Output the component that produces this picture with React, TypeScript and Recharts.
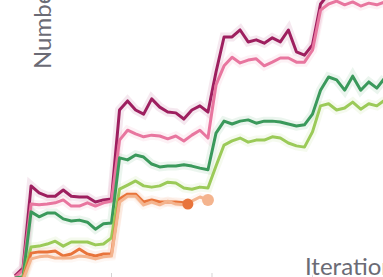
import { LineChart, Line, XAxis, YAxis, CartesianGrid } from "recharts"

// iterations sampled every 2 steps
const iterations = [
  1, 3, 5, 7, 9, 11, 13, 15, 17, 19, 21, 23, 25, 27, 29, 31, 33, 35, 37, 39, 41, 43, 45, 47,
  49, 51, 53, 55, 57, 59, 61, 63, 65, 67, 69, 71, 73, 75, 77, 79, 81, 83, 85, 87, 89, 91, 93,
]
const orangeIterations = [1, 3, 5, 7, 9, 11, 13, 15, 17, 19, 21, 23, 25, 27, 29, 31, 33, 35, 37, 39, 41, 43, 44]
const peachIterations = [1, 3, 5, 7, 9, 11, 13, 15, 17, 19, 21, 23, 25, 27, 29, 31, 33, 35, 37, 39, 41, 43, 45, 47, 49]

const magenta = [
  7.5, 9.4, 29.3, 27.6, 26.8, 26.8, 28.3, 26.8, 26.6, 26.6, 25.4, 25.9, 26.1,
  47.7, 49.9, 47.7, 46.7, 50.4, 48.4, 47.2, 47.0, 45.5, 47.7, 48.7, 47.2,
  56.9, 65.4, 65.4, 67.1, 64.2, 64.7, 63.9, 65.2, 64.2, 67.1, 61.8, 61.0, 63.5,
  73.4, 75.8, 76.8, 76.1, 76.5, 75.6, 76.3, 76.5, 75.8,
]
const pink = [
  7.2, 8.9, 24.9, 24.7, 24.9, 25.2, 25.9, 24.4, 24.4, 25.2, 24.4, 25.2, 25.6,
  40.4, 42.8, 41.9, 41.2, 41.6, 41.4, 40.7, 41.4, 40.2, 41.6, 42.8, 40.9,
  53.8, 58.4, 60.5, 59.1, 59.8, 60.1, 58.4, 59.3, 60.3, 60.3, 59.3, 59.3, 62.2,
  71.9, 73.4, 74.1, 73.2, 73.9, 72.9, 73.6, 73.2, 73.9,
]
const green = [
  7.0, 7.2, 23.0, 21.8, 22.7, 22.7, 21.3, 20.8, 21.0, 20.5, 18.8, 20.1, 20.3,
  36.1, 35.6, 36.8, 36.3, 34.6, 33.9, 34.1, 34.1, 34.4, 34.1, 33.6, 33.2,
  42.1, 45.0, 44.3, 45.0, 45.3, 44.5, 45.0, 45.0, 44.8, 44.3, 43.8, 44.1, 46.7,
  52.5, 55.7, 55.0, 52.5, 55.9, 52.5, 54.5, 53.0, 55.5,
]
const lightGreen = [
  6.7, 7.0, 14.5, 14.7, 15.2, 15.9, 14.7, 15.7, 15.7, 15.7, 15.0, 15.2, 16.7,
  28.5, 29.5, 30.5, 29.3, 29.0, 29.3, 30.2, 30.0, 28.8, 28.5, 29.0, 28.8,
  34.1, 39.2, 40.2, 40.9, 39.9, 40.4, 40.4, 41.2, 40.9, 39.7, 39.0, 38.7, 42.4,
  48.7, 49.2, 47.7, 48.2, 49.6, 47.9, 49.2, 48.7, 50.1,
]
const orange = [
  6.5, 6.7, 13.0, 13.3, 13.3, 13.5, 12.3, 12.8, 14.0, 12.8, 12.3, 12.8, 12.8,
  26.1, 27.3, 27.3, 25.4, 25.9, 25.4, 25.4, 25.4, 25.2, 24.9,
]
const peach = [
  6.2, 6.5, 11.6, 12.1, 12.3, 11.8, 11.8, 11.8, 12.3, 12.1, 11.6, 12.1, 12.3,
  25.4, 26.8, 26.8, 24.7, 25.4, 24.7, 25.6, 24.9, 24.7, 25.6, 26.6, 25.9,
]

const yTicks = [10, 20, 30, 40, 50, 60, 70, 80, 90]
const xTicks = [25, 50, 75, 100]

const toPoints = (xs: number[], ys: number[]) => xs.map((x, i) => ({ x, y: ys[i] }))

const series = [
  { name: "magenta", color: "#9e1f5f", data: toPoints(iterations, magenta) },
  { name: "pink", color: "#e8769f", data: toPoints(iterations, pink) },
  { name: "green", color: "#3a995b", data: toPoints(iterations, green) },
  { name: "lightGreen", color: "#9bca58", data: toPoints(iterations, lightGreen) },
  { name: "orange", color: "#e8743b", data: toPoints(orangeIterations, orange), end: 5.5 },
  { name: "peach", color: "#f4b48e", data: toPoints(peachIterations, peach), end: 6 },
]

const endDot = (color: string, r: number, last: number) => (props: any) => {
  const { cx, cy, index } = props
  if (index !== last) return <g key={`d-${index}`} />
  return <circle key={`d-${index}`} cx={cx} cy={cy} r={r} fill={color} />
}

const labelStyle = {
  fontFamily: "Lato, sans-serif",
  fontSize: 24,
  fill: "#6b6b75",
  stroke: "#ffffff",
  strokeWidth: 4,
  paintOrder: "stroke",
} as const

export default function App() {
  return (
    <div style={{ position: "absolute", left: 0, top: 0, width: 383, height: 277, overflow: "hidden", background: "#fff" }}>
      <div style={{ position: "absolute", left: 0, top: -65 }}>
        <LineChart width={413} height={348} margin={{ top: 0.5, right: 0, bottom: 1, left: 15 }}>
          <CartesianGrid vertical={false} stroke="#e3e3e3" />
          <XAxis
            type="number"
            dataKey="x"
            domain={[1, 100]}
            ticks={xTicks}
            mirror
            axisLine={false}
            tickSize={9}
            tickLine={{ stroke: "#d4d4d4" }}
            tick={() => <g />}
          />
          <YAxis
            type="number"
            domain={[6, 90]}
            ticks={yTicks}
            width={0}
            axisLine={false}
            tickLine={false}
            tick={false}
          />
          {series.map((s) => (
            <Line
              key={`${s.name}-band`}
              data={s.data}
              dataKey="y"
              type="linear"
              stroke={s.color}
              strokeOpacity={0.1}
              strokeWidth={9}
              dot={false}
              activeDot={false}
              isAnimationActive={false}
            />
          ))}
          {series.map((s) => (
            <Line
              key={s.name}
              data={s.data}
              dataKey="y"
              type="linear"
              stroke={s.color}
              strokeWidth={3}
              strokeLinejoin="round"
              dot={s.end ? endDot(s.color, s.end, s.data.length - 1) : false}
              activeDot={false}
              isAnimationActive={false}
            />
          ))}
        </LineChart>
      </div>
      <svg width={383} height={277} style={{ position: "absolute", left: 0, top: 0, pointerEvents: "none" }}>
        <text transform="translate(50.5,69) rotate(-90)" style={labelStyle}>
          Number of tasks solved
        </text>
        <text x={305} y={274.5} style={labelStyle}>
          Iteration
        </text>
      </svg>
    </div>
  )
}
